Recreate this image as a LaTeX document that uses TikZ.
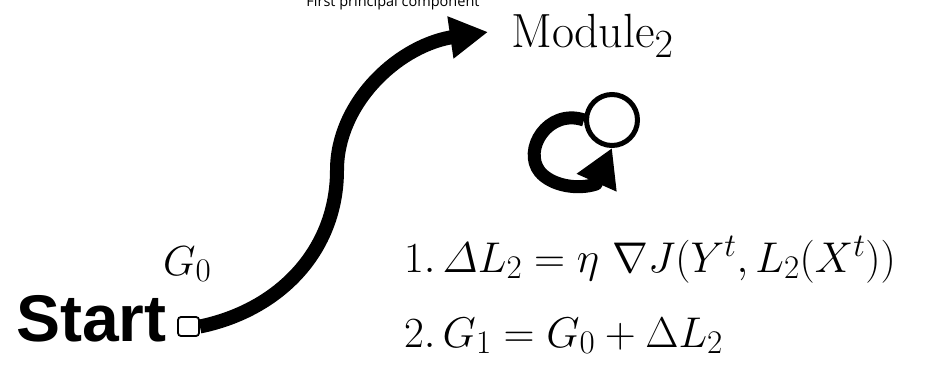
\RequirePackage{fix-cm}
\documentclass[tikz,border=0pt]{standalone}
\usepackage{amsmath}
\usepackage{fontspec}
\newfontfamily\arialf{Liberation Sans}
\newfontfamily\opensf{Open Sans}
\DeclareMathSizes{42}{42}{33}{24}
\DeclareMathSizes{43}{43}{33}{24}
\DeclareMathSizes{48}{48}{40}{28}
\usetikzlibrary{arrows.meta}
\pgfdeclarelayer{bg}
\pgfsetlayers{bg,main}
\begin{document}
\begin{tikzpicture}[x=1pt,y=-1pt,
  bigarrow/.style={line width=14pt, line join=round, -{Triangle[length=38pt,width=40pt]}},
  looparrow/.style={line width=13pt, line join=round, -{Triangle[length=38pt,width=41pt]}},
  txt/.style={anchor=base west, inner sep=0pt},
  startboxstyle/.style={draw, line width=1.8pt, rounded corners=3pt, minimum width=21pt, minimum height=19pt, inner sep=0pt},
  loopcircle/.style={circle, draw, line width=5pt, fill=white, minimum size=51pt, inner sep=0pt}]
\useasboundingbox (0,0) rectangle (941,367);

% labels
\node[anchor=base, inner sep=0pt, font=\opensf\fontsize{14.5}{14.5}\selectfont] (fpc) at (393,6.5) {First principal component};
\node[txt, font=\fontsize{48}{48}\selectfont] (module) at (511,47) {$\mathrm{Module}_{\raisebox{-3pt}{$\scriptstyle 2$}}$};
\node[txt, font=\arialf\bfseries\fontsize{66}{66}\selectfont] (start) at (16,341) {Start};
\node[txt, font=\fontsize{42}{42}\selectfont] (g0) at (163,275) {$G_0$};
\node[txt, font=\fontsize{43}{43}\selectfont] (eq1) at (404,272) {$1.\,\varDelta L_2 = \eta\ \nabla J(Y^t, L_2(X^t))$};
\node[txt, font=\fontsize{43}{43}\selectfont] (eq2) at (404,347) {$2.\,G_1 = G_0 + \Delta L_2$};

% start box and main arrow
\node[startboxstyle] (startbox) at (188.5,326.5) {};
\coordinate (tipA) at (488,32);
\draw[bigarrow] (startbox.east) .. controls (280,310) and (337,250) .. (337,170)
   .. controls (337,105) and (395,48) .. (450,37.5) -- (tipA);

% self loop
\node[loopcircle] (loopc) at (612,120) {};
\begin{pgfonlayer}{bg}
\draw[looparrow] (loopc.west) .. controls (548,108) and (522,150) .. (540,172)
   .. controls (552,186) and (578,190) .. (596,184) -- (loopc.south);
\end{pgfonlayer}
\end{tikzpicture}
\end{document}
